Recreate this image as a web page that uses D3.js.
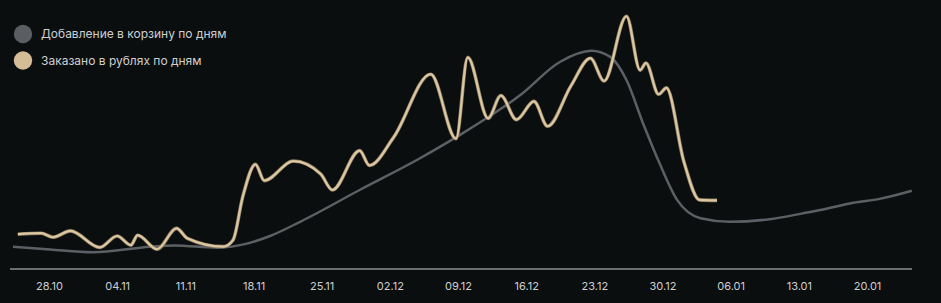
<html>

<head>
    <title>cart vs orders</title>
    <script src="https://d3js.org/d3.v7.min.js"></script>

    <style type="text/css">
        body {
            margin: 0;
            background-color: #0a0e0f;
        }

        .legend text,
        .tick text {
            font-family: Inter, "Noto Sans", sans-serif;
            fill: #cfcfcf;
        }
    </style>
</head>

<body>
</body>
<script>
    const width = 941
    const height = 303

    // days counted from 28.10
    const tickDays = [0, 7, 14, 21, 28, 35, 42, 49, 56, 63, 70, 77, 84]
    const tickLabels = ["28.10", "04.11", "11.11", "18.11", "25.11", "02.12", "09.12",
        "16.12", "23.12", "30.12", "06.01", "13.01", "20.01"]

    const seriesNames = ["Добавление в корзину по дням", "Заказано в рублях по дням"]

    // Добавление в корзину
    const cartDays = [-3.7, 0.1, 4.5, 10.4, 12.9, 17.3, 20.1, 22.7, 25.8, 31.9, 38.1, 41.9,
        48.4, 52.5, 55.7, 57.6, 59.3, 61.0, 62.7, 64.5, 66.9, 69.9, 74.0, 77.4, 79.2, 82.6, 85.3, 88.6]
    const cartValues = [8.8, 7.7, 6.6, 8.8, 9.3, 8.4, 9.8, 13.0, 18.6, 31.1, 43.6, 52.1,
        68.5, 81.6, 85.9, 83.6, 74.4, 57.4, 41.6, 27.2, 20.0, 18.6, 19.6, 21.9, 23.2, 26.1, 27.6, 30.8]

    // Заказано в рублях
    const orderDays = [-3.2, -0.8, 0.4, 2.2, 5.2, 7.0, 8.4, 9.1, 11.1, 13.1, 14.2, 17.9, 18.9,
        19.9, 21.2, 22.1, 25.1, 27.9, 29.1, 31.9, 32.9, 35.4, 39.2, 41.8, 43.0, 45.1, 46.4,
        48.0, 49.8, 51.2, 53.6, 55.6, 57.0, 59.3, 60.7, 61.3, 62.6, 63.4, 65.2, 66.8, 68.6]
    const orderValues = [13.7, 14.1, 12.5, 15.0, 8.5, 13.0, 9.4, 13.3, 7.8, 16.0, 12.1, 8.8, 11.4,
        28.5, 41.2, 34.8, 42.5, 37.4, 31.1, 46.6, 40.8, 51.9, 76.7, 51.3, 83.3, 59.3, 68.3,
        58.8, 66.0, 56.2, 72.1, 83.0, 74.0, 99.5, 78.3, 81.1, 68.8, 71.3, 42.2, 27.2, 27.0]

    const colors = ["#5c6064", "#dcc7a1"]
    const legendColors = ["#5a5d61", "#d4bc96"]

    let x = d3.scaleLinear().domain([0, 84]).range([49, 867])
    let y = d3.scaleLinear().domain([0, 100]).range([269, 15])

    let svg = d3.select("body").append("svg").attr("width", width).attr("height", height)

    svg.append("rect").attr("width", width).attr("height", height).attr("fill", "#0a0e0f")

    // axis
    let xAxis = d3.axisBottom(x)
        .tickValues(tickDays)
        .tickFormat((d, i) => tickLabels[i])
        .tickSize(0)
        .tickPadding(13)

    let gx = svg.append("g").attr("transform", "translate(0,269)").call(xAxis)
    gx.select(".domain").remove()
    gx.selectAll(".tick text").attr("font-size", 11).attr("fill", "#cfcfcf")
    gx.append("line")
        .attr("x1", 10).attr("x2", 912)
        .attr("stroke", "#6b6e71").attr("stroke-width", 2)

    let line = d3.line()
        .x(d => x(d[0]))
        .y(d => y(d[1]))
        .curve(d3.curveMonotoneX)

    let cart = cartDays.map((d, i) => [d, cartValues[i]])
    let orders = orderDays.map((d, i) => [d, orderValues[i]])

    svg.append("path").datum(cart)
        .attr("d", line)
        .attr("fill", "none")
        .attr("stroke", colors[0])
        .attr("stroke-width", 2.5)

    svg.append("path").datum(orders)
        .attr("d", line)
        .attr("fill", "none")
        .attr("stroke", "#8a7b62")
        .attr("stroke-width", 3.6)
    svg.append("path").datum(orders)
        .attr("d", line)
        .attr("fill", "none")
        .attr("stroke", colors[1])
        .attr("stroke-width", 2.2)

    // legend
    let legend = svg.append("g").attr("class", "legend")
    let items = legend.selectAll("g").data(seriesNames).join("g")
        .attr("transform", (d, i) => `translate(23, ${34 + i * 26.5})`)
    items.append("circle").attr("r", 9.2).attr("fill", (d, i) => legendColors[i])
    items.append("text")
        .attr("x", 18).attr("dy", "0.35em")
        .attr("font-size", 12)
        .text(d => d)
</script>

</html>
